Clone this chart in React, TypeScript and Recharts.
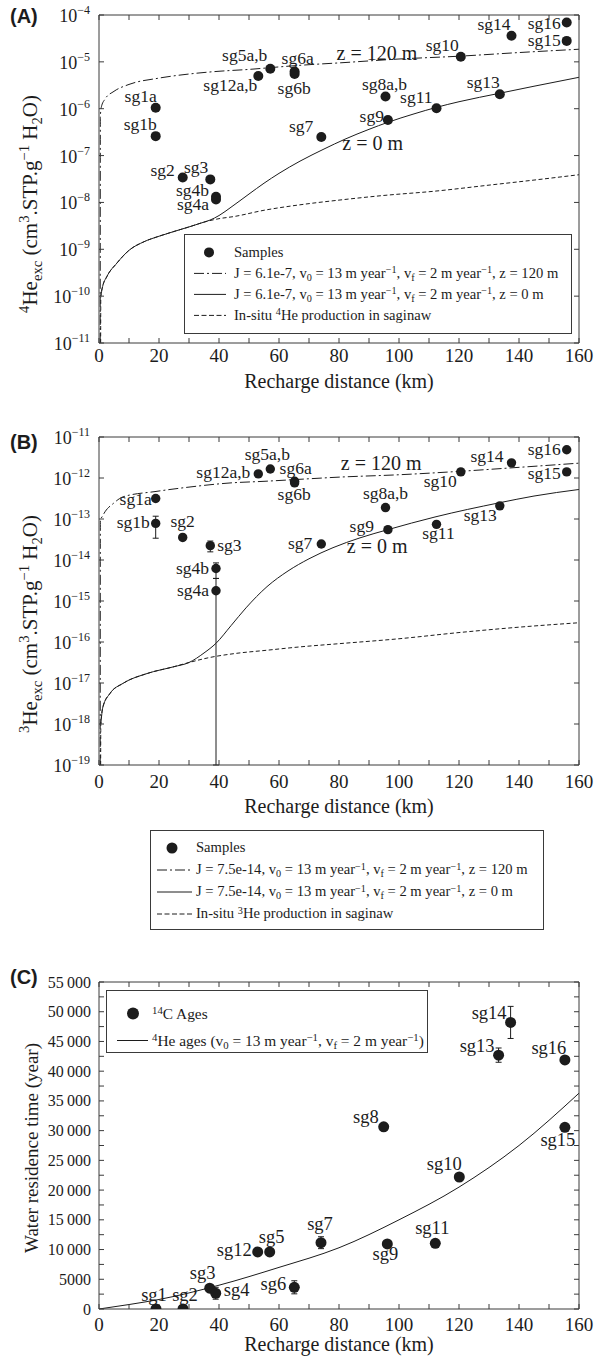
import React from 'react'
import { ComposedChart, Line, Scatter, XAxis, YAxis, ErrorBar, Legend } from 'recharts'

const SERIF = "'Liberation Serif', 'Times New Roman', serif"
const SANS = "'Liberation Sans', Arial, sans-serif"
const INK = '#1c1c1c'
const FRAME = '#3a3a3a'
const TXT = { fontFamily: SERIF }

// ---------- shared ticks ----------
const KM_TICKS = [0, 10, 20, 30, 40, 50, 60, 70, 80, 90, 100, 110, 120, 130, 140, 150, 160]
const A_TICKS = [1e-11, 1e-10, 1e-9, 1e-8, 1e-7, 1e-6, 1e-5, 1e-4]
const B_TICKS = [1e-19, 1e-18, 1e-17, 1e-16, 1e-15, 1e-14, 1e-13, 1e-12, 1e-11]
const C_TICKS = [0, 2500, 5000, 7500, 10000, 12500, 15000, 17500, 20000, 22500, 25000, 27500, 30000,
  32500, 35000, 37500, 40000, 42500, 45000, 47500, 50000, 52500, 55000]

// ---------- panel A : 4He excess ----------
const A_NAMES = ['sg1a', 'sg1b', 'sg2', 'sg3', 'sg4b', 'sg4a', 'sg12a,b', 'sg5a,b', 'sg6a', 'sg6b', 'sg7',
  'sg8a,b', 'sg9', 'sg11', 'sg10', 'sg13', 'sg14', 'sg16', 'sg15']
const A_DIST = [18.9, 18.9, 27.9, 37.1, 39.0, 39.0, 53.1, 57.1, 65.2, 65.2, 74.1, 95.5, 96.3, 112.5, 120.6,
  133.6, 137.5, 155.9, 155.9]
const A_HE4 = [1.05e-6, 2.6e-7, 3.4e-8, 3.1e-8, 1.32e-8, 1.15e-8, 5.0e-6, 7.1e-6, 6.2e-6, 5.5e-6, 2.5e-7,
  1.82e-6, 5.75e-7, 1.02e-6, 1.29e-5, 2.04e-6, 3.6e-5, 6.9e-5, 2.8e-5]

const A_Z120_X = [0.4, 0.45, 0.8, 2, 5, 10, 20, 30, 40, 50, 60, 70, 80, 100, 120, 140, 160]
const A_Z120_Y = [1e-11, 6.8e-7, 1.1e-6, 1.6e-6, 2.35e-6, 3.3e-6, 4.5e-6, 5.5e-6, 6.3e-6, 6.9e-6, 7.8e-6,
  8.7e-6, 9.5e-6, 1.15e-5, 1.32e-5, 1.58e-5, 1.86e-5]
const A_Z0_X = [0.6, 1.2, 2.6, 6, 10, 15, 20, 25, 30, 35, 37, 40, 44, 50, 55, 60, 67, 75, 82, 90, 96.3, 105,
  112.5, 120, 133.6, 145, 160]
const A_Z0_Y = [1e-10, 1.6e-10, 2.6e-10, 5.1e-10, 9.5e-10, 1.45e-9, 1.9e-9, 2.4e-9, 3.0e-9, 3.8e-9, 4.2e-9,
  5.25e-9, 7.9e-9, 1.51e-8, 2.57e-8, 4.17e-8, 7.6e-8, 1.38e-7, 2.24e-7, 3.63e-7, 5.13e-7, 7.76e-7, 1.07e-6,
  1.41e-6, 2.14e-6, 3.02e-6, 4.68e-6]
const A_INSITU_X = [0.55, 0.6, 1.2, 2.6, 6, 10, 15, 20, 25, 30, 35, 37, 40, 45, 55, 67, 80, 95, 112, 130, 145, 160]
const A_INSITU_Y = [1e-11, 1e-10, 1.6e-10, 2.6e-10, 5.1e-10, 9.5e-10, 1.45e-9, 1.9e-9, 2.4e-9, 3.0e-9, 3.8e-9,
  4.1e-9, 4.5e-9, 5.0e-9, 6.8e-9, 8.9e-9, 1.12e-8, 1.41e-8, 1.74e-8, 2.34e-8, 3.0e-8, 3.9e-8]
const A_NOTES = ['z = 120 m', 'z = 0 m']
const A_NOTE_X = [79.2, 81.1]
const A_NOTE_Y = [1.1e-5, 1.32e-7]

// ---------- panel B : 3He excess ----------
const B_NAMES = A_NAMES
const B_DIST = A_DIST
const B_HE3 = [3.16e-13, 7.8e-14, 3.55e-14, 2.24e-14, 6.2e-15, 1.78e-15, 1.26e-12, 1.66e-12, 8.3e-13, 7.6e-13,
  2.45e-14, 1.9e-13, 5.5e-14, 7.4e-14, 1.41e-12, 2.09e-13, 2.34e-12, 4.9e-12, 1.41e-12]
// error bar bounds (null = no bar)
const B_LO = [null, 3.4e-14, null, 1.58e-14, 3.55e-15, 1e-19, null, null, null, null, null, null, null, null,
  null, null, null, null, null]
const B_HI = [null, 1.17e-13, null, 2.9e-14, 8.5e-15, 3.55e-15, null, null, null, null, null, null, null, null,
  null, null, null, null, null]

const B_Z120_X = [0.4, 0.45, 1, 2, 4.8, 8, 19, 30, 44, 55, 67, 80, 100, 120, 140, 160]
const B_Z120_Y = [1e-19, 9.5e-14, 1.12e-13, 1.5e-13, 2.4e-13, 3.47e-13, 4.7e-13, 6.0e-13, 7.6e-13, 8.3e-13,
  9.3e-13, 1.05e-12, 1.2e-12, 1.45e-12, 1.82e-12, 2.3e-12]
const B_Z0_X = [0.6, 1.3, 3.7, 8, 16, 25, 30, 35, 39, 44, 49, 56, 63, 70, 78, 87, 96.3, 112, 133.6, 145, 160]
const B_Z0_Y = [1e-18, 2.6e-18, 5.6e-18, 9.8e-18, 1.7e-17, 2.5e-17, 3.16e-17, 5.4e-17, 9.3e-17, 2.5e-16,
  6.8e-16, 2.24e-15, 5.4e-15, 1.07e-14, 2.0e-14, 3.47e-14, 5.5e-14, 1.12e-13, 2.5e-13, 3.63e-13, 5.25e-13]
const B_INSITU_X = [0.55, 0.6, 1.3, 3.7, 8, 16, 25, 30, 37, 45, 56, 67, 80, 100, 120, 140, 160]
const B_INSITU_Y = [1e-19, 1e-18, 2.6e-18, 5.6e-18, 9.8e-18, 1.7e-17, 2.5e-17, 3.16e-17, 4.2e-17, 5.2e-17,
  6.3e-17, 7.6e-17, 9.1e-17, 1.2e-16, 1.7e-16, 2.3e-16, 2.95e-16]
const B_NOTES = ['z = 120 m', 'z = 0 m']
const B_NOTE_X = [80.6, 82.6]
const B_NOTE_Y = [1.58e-12, 1.5e-14]

// ---------- panel C : residence time ----------
const C_NAMES = ['sg1', 'sg2', 'sg3', 'sg4', 'sg12', 'sg5', 'sg6', 'sg7', 'sg8', 'sg9', 'sg11', 'sg10', 'sg13',
  'sg14', 'sg16', 'sg15']
const C_DIST = [19.0, 28.0, 36.9, 38.9, 52.9, 56.9, 65.1, 74.0, 94.9, 96.1, 112.1, 120.1, 133.2, 137.2, 155.3, 155.3]
const C_AGE = [0, 0, 3500, 2650, 9600, 9600, 3650, 11150, 30650, 10950, 11050, 22200, 42700, 48200, 41900, 30550]
const C_ERR = [0, 0, 0, 1000, 0, 0, 1100, 1000, 0, 0, 400, 0, 1200, 2700, 0, 0]
const C_HE_X = [0, 10, 20, 40, 60, 80, 100, 120, 140, 160]
const C_HE_Y = [0, 750, 1600, 4000, 7000, 10300, 15000, 20500, 27500, 36300]

// label placement [dx, dy, anchor] relative to the dot centre
type Off = [number, number, 'start' | 'middle' | 'end']
const A_LBL: Record<string, Off> = {
  sg1a: [1, -6, 'end'], sg1b: [1, -6, 'end'], sg2: [-8, -2, 'end'], sg3: [-2, -6, 'end'],
  sg4b: [-7, -1, 'end'], sg4a: [-7, 10, 'end'], 'sg12a,b': [-1, 15, 'end'], 'sg5a,b': [-3, -8, 'end'],
  sg6a: [-13, -8, 'start'], sg6b: [-17, 20, 'start'], sg7: [-8, -5, 'end'], 'sg8a,b': [-1, -7, 'middle'],
  sg9: [-4, 2, 'end'], sg11: [-4, -5, 'end'], sg10: [-2, -6, 'end'], sg13: [0, -6, 'end'],
  sg14: [-1, -6, 'end'], sg16: [-6, 6, 'end'], sg15: [-6, 5, 'end'],
}
const B_LBL: Record<string, Off> = {
  sg1a: [-4, 6, 'end'], sg1b: [-6, 5, 'end'], sg2: [0, -10, 'middle'], sg3: [7, 5, 'start'],
  sg4b: [-7, 5, 'end'], sg4a: [-7, 5, 'end'], 'sg12a,b': [-8, 4, 'end'], 'sg5a,b': [-3, -9, 'middle'],
  sg6a: [-15, -7, 'start'], sg6b: [-17, 17, 'start'], sg7: [-9, 5, 'end'], 'sg8a,b': [0, -9, 'middle'],
  sg9: [-14, 2, 'end'], sg11: [2, 15, 'middle'], sg10: [-4, 15, 'end'], sg13: [-3, 15, 'end'],
  sg14: [-8, -1, 'end'], sg16: [-6, 5, 'end'], sg15: [-6, 7, 'end'],
}
const C_LBL: Record<string, Off> = {
  sg1: [-2, -8, 'middle'], sg2: [2, -8, 'middle'], sg3: [-7, -9, 'middle'], sg4: [8, 3, 'start'],
  sg12: [-6, 4, 'end'], sg5: [2, -9, 'middle'], sg6: [-8, 3, 'end'], sg7: [-1, -13, 'middle'],
  sg8: [-5, -4, 'end'], sg9: [-2, 16, 'middle'], sg11: [-3, -9, 'middle'], sg10: [-15, -7, 'middle'],
  sg13: [-4, -3, 'end'], sg14: [-4, -3, 'end'], sg16: [-16, -6, 'middle'], sg15: [-7, 19, 'middle'],
}

const xy = (xs: number[], ys: number[]) => xs.map((x, i) => ({ x, y: ys[i] }))
const notes = (texts: string[], xs: number[], ys: number[]) => texts.map((text, i) => ({ text, x: xs[i], y: ys[i] }))

const aSamples = A_NAMES.map((name, i) => ({ name, x: A_DIST[i], y: A_HE4[i] }))
const bSamples = B_NAMES.map((name, i) => {
  const lo = B_LO[i]
  const hi = B_HI[i]
  const y = B_HE3[i]
  return { name, x: B_DIST[i], y, err: lo == null || hi == null ? [0, 0] : [y - lo, hi - y] }
})
const cSamples = C_NAMES.map((name, i) => ({ name, x: C_DIST[i], y: C_AGE[i], err: C_ERR[i] }))

// ---------- small render helpers ----------
const dotShape = (offs: Record<string, Off>, r: number, fs: number) => (p: any) => {
  const o = offs[p.payload.name] ?? [0, -8, 'middle']
  return (
    <g>
      <circle cx={p.cx} cy={p.cy} r={r} fill={INK} />
      <text x={p.cx + o[0]} y={p.cy + o[1]} textAnchor={o[2]} fontSize={fs} style={TXT} fill={INK}>
        {p.payload.name}
      </text>
    </g>
  )
}
const noteShape = (p: any) => (
  <text x={p.cx} y={p.cy} fontSize={20} style={TXT} fill={INK}>{p.payload.text}</text>
)

const PowTick = ({ x, y, payload }: any) => {
  const e = Math.round(Math.log10(payload.value))
  return (
    <text x={x} y={y} dy={7} textAnchor="end" fontSize={18} style={TXT} fill={INK}>
      10<tspan dy={-8} fontSize={12}>{'\u2212' + Math.abs(e)}</tspan>
    </text>
  )
}
const KmTick = ({ x, y, payload }: any) =>
  payload.value % 20 !== 0 ? <g /> : (
    <text x={x} y={y} textAnchor="middle" fontSize={19} style={TXT} fill={INK}>{payload.value}</text>
  )
const AgeTick = ({ x, y, payload }: any) => {
  const v = payload.value
  if (v % 5000 !== 0) return <g />
  const s = v >= 10000 ? `${Math.floor(v / 1000)}\u2009000` : String(v)
  return (
    <text x={x} y={y} dy={5.5} textAnchor="end" fontSize={16} style={TXT} fill={INK}>{s}</text>
  )
}
const blank = () => ''

type Part = [string, 'sup' | 'sub' | null]
const richSpans = (parts: Part[], size: number) => {
  let cur = 0
  return parts.map(([t, s], i) => {
    const target = s === 'sup' ? -0.4 * size : s === 'sub' ? 0.25 * size : 0
    const dy = target - cur
    cur = target
    return <tspan key={i} dy={dy} fontSize={s ? size * 0.7 : size}>{t}</tspan>
  })
}
const yTitle = (parts: Part[], size: number, bx: number, cy: number) => () => (
  <text transform={`translate(${bx},${cy}) rotate(-90)`} textAnchor="middle" style={TXT} fill={INK}>
    {richSpans(parts, size)}
  </text>
)
const xTitle = (cx: number, by: number) => () => (
  <text x={cx} y={by} textAnchor="middle" fontSize={20} style={TXT} fill={INK}>Recharge distance (km)</text>
)

const Sup = ({ children }: any) => (
  <span style={{ fontSize: '0.7em', position: 'relative', top: '-0.45em', lineHeight: 0 }}>{children}</span>
)
const Sub = ({ children }: any) => (
  <span style={{ fontSize: '0.7em', position: 'relative', top: '0.3em', lineHeight: 0 }}>{children}</span>
)

type Row = { kind: 'dot' | 'solid' | 'dashdot' | 'dash'; text: React.ReactNode }
const LegendBox = ({ rows, w, h, pad, pitch, fs, symW, x1, x2, dotX, r }: any) => (
  <div style={{
    width: w, height: h, boxSizing: 'border-box', border: `1.2px solid ${FRAME}`, background: '#fff',
    paddingTop: pad, fontFamily: SERIF, fontSize: fs, color: INK,
  }}>
    {rows.map((row: Row, i: number) => (
      <div key={i} style={{ height: pitch, display: 'flex', alignItems: 'center', whiteSpace: 'nowrap' }}>
        <svg width={symW} height={pitch} style={{ flex: 'none' }}>
          {row.kind === 'dot' ? (
            <circle cx={dotX} cy={pitch / 2} r={r} fill={INK} />
          ) : (
            <line x1={x1} x2={x2} y1={pitch / 2} y2={pitch / 2} stroke={INK} strokeWidth={1}
              strokeDasharray={row.kind === 'dashdot' ? '10 3 2 3' : row.kind === 'dash' ? '5 2.5' : undefined} />
          )}
        </svg>
        <span>{row.text}</span>
      </div>
    ))}
  </div>
)

const modelText = (j: string, z: string) => (
  <>J = {j}, v<Sub>0</Sub> = 13 m year<Sup>{'\u2212'}1</Sup>, v<Sub>f</Sub> = 2 m year<Sup>{'\u2212'}1</Sup>, z = {z}</>
)
const LEGEND_A: Row[] = [
  { kind: 'dot', text: 'Samples' },
  { kind: 'dashdot', text: modelText('6.1e-7', '120 m') },
  { kind: 'solid', text: modelText('6.1e-7', '0 m') },
  { kind: 'dash', text: <>In-situ <Sup>4</Sup>He production in saginaw</> },
]
const LEGEND_B: Row[] = [
  { kind: 'dot', text: 'Samples' },
  { kind: 'dashdot', text: modelText('7.5e-14', '120 m') },
  { kind: 'solid', text: modelText('7.5e-14', '0 m') },
  { kind: 'dash', text: <>In-situ <Sup>3</Sup>He production in saginaw</> },
]
const LEGEND_C: Row[] = [
  { kind: 'dot', text: <><Sup>14</Sup>C Ages</> },
  { kind: 'solid', text: <><Sup>4</Sup>He ages (v<Sub>0</Sub> = 13 m year<Sup>{'\u2212'}1</Sup>, v<Sub>f</Sub> = 2 m year<Sup>{'\u2212'}1</Sup>)</> },
]

const HE4_TITLE: Part[] = [['4', 'sup'], ['He', null], ['exc', 'sub'], [' (cm', null], ['3', 'sup'], ['.STP.g', null],
  ['\u22121', 'sup'], [' H', null], ['2', 'sub'], ['O)', null]]
const HE3_TITLE: Part[] = [['3', 'sup'], ['He', null], ['exc', 'sub'], [' (cm', null], ['3', 'sup'], ['.STP.g', null],
  ['\u22121', 'sup'], [' H', null], ['2', 'sub'], ['O)', null]]

const W = 602
const MARGIN_X = { left: 39, right: 23 }
const legendPos = { layout: 'vertical' as const, align: 'center' as const, verticalAlign: 'middle' as const }

function PanelA() {
  return (
    <ComposedChart width={W} height={395} margin={{ top: 15, bottom: 22, ...MARGIN_X }} style={TXT}>
      <XAxis xAxisId="b" dataKey="x" type="number" domain={[0, 160]} ticks={KM_TICKS} interval={0} height={30}
        tickSize={-5} tickMargin={24} tick={<KmTick />} stroke={FRAME} allowDataOverflow label={xTitle(339, 388)} />
      <XAxis xAxisId="t" orientation="top" mirror dataKey="x" type="number" domain={[0, 160]} ticks={KM_TICKS}
        interval={0} tickSize={5} tickFormatter={blank} stroke={FRAME} allowDataOverflow />
      <YAxis yAxisId="l" dataKey="y" type="number" scale="log" domain={[1e-11, 1e-4]} ticks={A_TICKS} interval={0}
        width={60} tickSize={-5} tickMargin={14} tick={<PowTick />} stroke={FRAME} allowDataOverflow
        label={yTitle(HE4_TITLE, 21, 37, 204)} />
      <YAxis yAxisId="r" orientation="right" mirror dataKey="y" type="number" scale="log" domain={[1e-11, 1e-4]}
        ticks={A_TICKS} interval={0} tickSize={5} tickFormatter={blank} stroke={FRAME} allowDataOverflow />
      <Line xAxisId="b" yAxisId="l" data={xy(A_INSITU_X, A_INSITU_Y)} dataKey="y" type="monotone" stroke={INK}
        strokeWidth={1} strokeDasharray="4 2.5" dot={false} activeDot={false} isAnimationActive={false} />
      <Line xAxisId="b" yAxisId="l" data={xy(A_Z0_X, A_Z0_Y)} dataKey="y" type="monotone" stroke={INK}
        strokeWidth={1} dot={false} activeDot={false} isAnimationActive={false} />
      <Line xAxisId="b" yAxisId="l" data={xy(A_Z120_X, A_Z120_Y)} dataKey="y" type="monotone" stroke={INK}
        strokeWidth={1} strokeDasharray="10 3 2 3" dot={false} activeDot={false} isAnimationActive={false} />
      <Scatter xAxisId="b" yAxisId="l" data={notes(A_NOTES, A_NOTE_X, A_NOTE_Y)} dataKey="y" shape={noteShape}
        isAnimationActive={false} />
      <Scatter xAxisId="b" yAxisId="l" data={aSamples} dataKey="y" shape={dotShape(A_LBL, 5, 17.5)}
        isAnimationActive={false} />
      <Legend {...legendPos} content={() => (
        <LegendBox rows={LEGEND_A} w={388} h={100} pad={7.3} pitch={20.8} fs={14.6} symW={49} x1={9} x2={41} dotX={24} r={5} />
      )} wrapperStyle={{ left: 184, top: 234, width: 388, height: 100 }} />
    </ComposedChart>
  )
}

function PanelB() {
  return (
    <ComposedChart width={W} height={530} margin={{ top: 27, bottom: 145, ...MARGIN_X }} style={TXT}>
      <XAxis xAxisId="b" dataKey="x" type="number" domain={[0, 160]} ticks={KM_TICKS} interval={0} height={30}
        tickSize={-5} tickMargin={28} tick={<KmTick />} stroke={FRAME} allowDataOverflow label={xTitle(339, 403)} />
      <XAxis xAxisId="t" orientation="top" mirror dataKey="x" type="number" domain={[0, 160]} ticks={KM_TICKS}
        interval={0} tickSize={5} tickFormatter={blank} stroke={FRAME} allowDataOverflow />
      <YAxis yAxisId="l" dataKey="y" type="number" scale="log" domain={[1e-19, 1e-11]} ticks={B_TICKS} interval={0}
        width={60} tickSize={-5} tickMargin={14} tick={<PowTick />} stroke={FRAME} allowDataOverflow
        label={yTitle(HE3_TITLE, 21, 37, 214)} />
      <YAxis yAxisId="r" orientation="right" mirror dataKey="y" type="number" scale="log" domain={[1e-19, 1e-11]}
        ticks={B_TICKS} interval={0} tickSize={5} tickFormatter={blank} stroke={FRAME} allowDataOverflow />
      <Line xAxisId="b" yAxisId="l" data={xy(B_INSITU_X, B_INSITU_Y)} dataKey="y" type="monotone" stroke={INK}
        strokeWidth={1} strokeDasharray="4 2.5" dot={false} activeDot={false} isAnimationActive={false} />
      <Line xAxisId="b" yAxisId="l" data={xy(B_Z0_X, B_Z0_Y)} dataKey="y" type="monotone" stroke={INK}
        strokeWidth={1} dot={false} activeDot={false} isAnimationActive={false} />
      <Line xAxisId="b" yAxisId="l" data={xy(B_Z120_X, B_Z120_Y)} dataKey="y" type="monotone" stroke={INK}
        strokeWidth={1} strokeDasharray="10 3 2 3" dot={false} activeDot={false} isAnimationActive={false} />
      <Scatter xAxisId="b" yAxisId="l" data={notes(B_NOTES, B_NOTE_X, B_NOTE_Y)} dataKey="y" shape={noteShape}
        isAnimationActive={false} />
      <Scatter xAxisId="b" yAxisId="l" data={bSamples} dataKey="y" shape={dotShape(B_LBL, 4.7, 17.5)}
        isAnimationActive={false}>
        <ErrorBar dataKey="err" direction="y" width={3} stroke={INK} strokeWidth={1} />
      </Scatter>
      <Legend {...legendPos} content={() => (
        <LegendBox rows={LEGEND_B} w={394} h={100} pad={5.7} pitch={22} fs={14.6} symW={45} x1={6} x2={41} dotX={21} r={5.5} />
      )} wrapperStyle={{ left: 150, top: 420, width: 394, height: 100 }} />
    </ComposedChart>
  )
}

function PanelC() {
  return (
    <ComposedChart width={W} height={412} margin={{ top: 32, bottom: 23, ...MARGIN_X }} style={TXT}>
      <XAxis xAxisId="b" dataKey="x" type="number" domain={[0, 160]} ticks={KM_TICKS} interval={0} height={30}
        tickSize={-5} tickMargin={27} tick={<KmTick />} stroke={FRAME} allowDataOverflow label={xTitle(339, 401)} />
      <XAxis xAxisId="t" orientation="top" mirror dataKey="x" type="number" domain={[0, 160]} ticks={KM_TICKS}
        interval={0} tickSize={5} tickFormatter={blank} stroke={FRAME} allowDataOverflow />
      <YAxis yAxisId="l" dataKey="y" type="number" domain={[0, 55000]} ticks={C_TICKS} interval={0}
        width={60} tickSize={-5} tickMargin={13} tick={<AgeTick />} stroke={FRAME} allowDataOverflow
        label={yTitle([['Water residence time (year)', null]], 19, 38, 198)} />
      <YAxis yAxisId="r" orientation="right" mirror dataKey="y" type="number" domain={[0, 55000]} ticks={C_TICKS}
        interval={0} tickSize={5} tickFormatter={blank} stroke={FRAME} allowDataOverflow />
      <Line xAxisId="b" yAxisId="l" data={xy(C_HE_X, C_HE_Y)} dataKey="y" type="monotone" stroke={INK}
        strokeWidth={1} dot={false} activeDot={false} isAnimationActive={false} />
      <Scatter xAxisId="b" yAxisId="l" data={cSamples} dataKey="y" shape={dotShape(C_LBL, 5.5, 18.5)}
        isAnimationActive={false}>
        <ErrorBar dataKey="err" direction="y" width={3} stroke={INK} strokeWidth={1} />
      </Scatter>
      <Legend {...legendPos} content={() => (
        <LegendBox rows={LEGEND_C} w={322} h={63} pad={9.2} pitch={27} fs={15.4} symW={45} x1={10} x2={41} dotX={26} r={6} />
      )} wrapperStyle={{ left: 106, top: 40, width: 322, height: 63 }} />
    </ComposedChart>
  )
}

const Tag = ({ text, top }: { text: string; top: number }) => (
  <div style={{ position: 'absolute', left: 10, top, fontFamily: SANS, fontWeight: 700, fontSize: 20, lineHeight: '20px', color: INK }}>
    {text}
  </div>
)

export default function App() {
  return (
    <div style={{ position: 'absolute', left: 0, top: 0, width: W, height: 1362, background: '#fff', fontFamily: SERIF }}>
      <div style={{ position: 'absolute', left: 0, top: 0 }}><PanelA /></div>
      <div style={{ position: 'absolute', left: 0, top: 410 }}><PanelB /></div>
      <div style={{ position: 'absolute', left: 0, top: 950 }}><PanelC /></div>
      <Tag text="(A)" top={6} />
      <Tag text="(B)" top={432} />
      <Tag text="(C)" top={967} />
    </div>
  )
}
